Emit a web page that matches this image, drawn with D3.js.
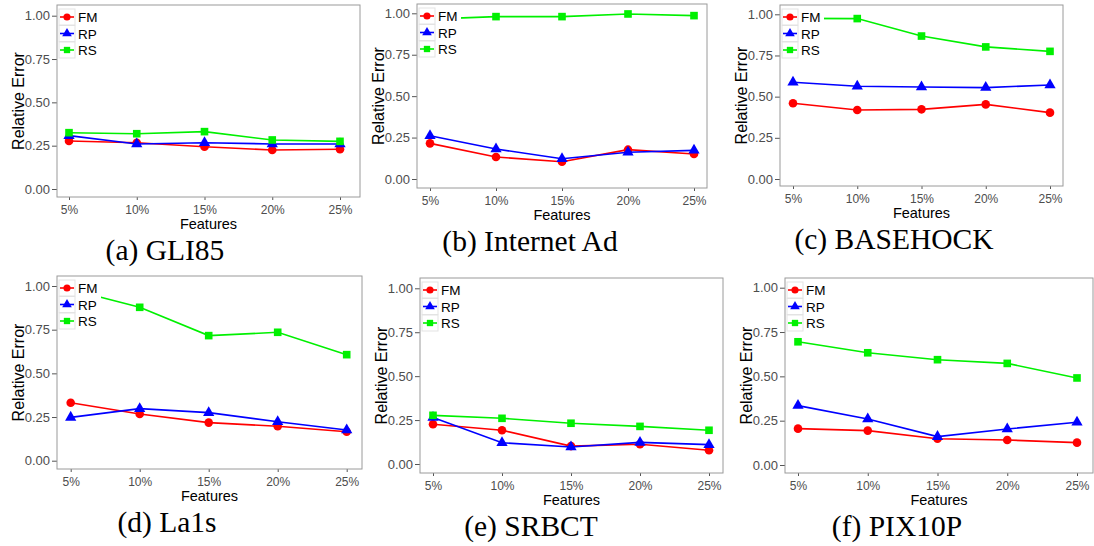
<!DOCTYPE html>
<html>
<head>
<meta charset="utf-8">
<script src="https://cdn.jsdelivr.net/npm/d3@7"></script>
<style>
  body { margin: 0; background: #fff; }
  svg { display: block; }
  .tick text { font-family: "Liberation Sans", Arial, sans-serif; fill: #4d4d4d; }
</style>
</head>
<body>
<div id="chart"></div>
<script>
var features = ['5%', '10%', '15%', '20%', '25%'];
var yTicks = [0, 0.25, 0.5, 0.75, 1];
var methods = ['FM', 'RP', 'RS'];
var panelTitles = ['(a) GLI85', '(b) Internet Ad', '(c) BASEHOCK', '(d) La1s', '(e) SRBCT', '(f) PIX10P'];

// one row per dataset, in panel order
var fmErrors = [
    [0.277, 0.267, 0.244, 0.225, 0.229],
    [0.215, 0.133, 0.104, 0.177, 0.151],
    [0.460, 0.419, 0.423, 0.453, 0.403],
    [0.332, 0.267, 0.218, 0.197, 0.166],
    [0.226, 0.192, 0.102, 0.112, 0.078],
    [0.205, 0.194, 0.148, 0.141, 0.126]
];
var rpErrors = [
    [0.308, 0.260, 0.267, 0.260, 0.260],
    [0.261, 0.181, 0.122, 0.161, 0.173],
    [0.587, 0.563, 0.559, 0.555, 0.571],
    [0.248, 0.298, 0.275, 0.223, 0.176],
    [0.264, 0.121, 0.097, 0.123, 0.110],
    [0.335, 0.259, 0.160, 0.203, 0.241]
];
var rsErrors = [
    [0.325, 0.319, 0.331, 0.283, 0.275],
    [0.965, 0.980, 0.980, 0.996, 0.986],
    [0.975, 0.974, 0.868, 0.802, 0.775],
    [0.980, 0.878, 0.716, 0.735, 0.607],
    [0.277, 0.260, 0.232, 0.214, 0.192],
    [0.695, 0.633, 0.594, 0.573, 0.491]
];

var colors = { FM: '#ff0000', RP: '#0000ff', RS: '#00f000' };
var shapes = { FM: d3.symbolCircle, RP: d3.symbolTriangle, RS: d3.symbolSquare };

// panel boxes as they sit in the figure
var layout = [
    { left: 57, right: 360, top: 5, bottom: 197, x5: 69, x25: 340, y0: 189, y1: 15.7, titleX: 165 },
    { left: 417, right: 707, top: 4, bottom: 188, x5: 430, x25: 694, y0: 179, y1: 13.3, titleX: 530 },
    { left: 780, right: 1063, top: 5, bottom: 186, x5: 793, x25: 1050, y0: 179, y1: 14.3, titleX: 894 },
    { left: 57, right: 362, top: 276, bottom: 469, x5: 70.7, x25: 346.7, y0: 460.7, y1: 286, titleX: 167 },
    { left: 420, right: 723, top: 278, bottom: 473, x5: 433, x25: 709, y0: 464, y1: 288.3, titleX: 531 },
    { left: 785, right: 1093, top: 278, bottom: 473, x5: 798, x25: 1077, y0: 465, y1: 287.7, titleX: 897 }
];

var svg = d3.select('#chart').append('svg')
    .attr('width', 1094)
    .attr('height', 546);

layout.forEach(function (box, i) {
    var series = {
        FM: fmErrors[i],
        RP: rpErrors[i],
        RS: rsErrors[i]
    };
    drawPanel(svg, box, series, panelTitles[i]);
});

function drawPanel(svg, box, series, title) {
    var x = d3.scalePoint().domain(features).range([box.x5, box.x25]),
        y = d3.scaleLinear().domain([0, 1]).range([box.y0, box.y1]);

    var g = svg.append('g');

    g.append('rect')
        .attr('x', box.left)
        .attr('y', box.top)
        .attr('width', box.right - box.left)
        .attr('height', box.bottom - box.top)
        .attr('fill', '#fff');

    var yAxis = d3.axisLeft(y)
        .tickValues(yTicks)
        .tickFormat(d3.format('.2f'))
        .tickSize(5)
        .tickPadding(2);

    var xAxis = d3.axisBottom(x)
        .tickSize(3)
        .tickPadding(5);

    g.append('g')
        .attr('transform', 'translate(' + box.left + ',0)')
        .call(yAxis)
        .call(function (a) {
            a.select('.domain').remove();
            a.selectAll('line').attr('stroke', '#555');
            a.selectAll('text').style('font-size', '13px');
        });

    g.append('g')
        .attr('transform', 'translate(0,' + box.bottom + ')')
        .call(xAxis)
        .call(function (a) {
            a.select('.domain').remove();
            a.selectAll('line').attr('stroke', '#555');
            a.selectAll('text').style('font-size', '12px');
        });

    var line = d3.line()
        .x(function (d, k) { return x(features[k]); })
        .y(function (d) { return y(d); });

    methods.forEach(function (m) {
        g.append('path')
            .datum(series[m])
            .attr('d', line)
            .attr('fill', 'none')
            .attr('stroke', colors[m])
            .attr('stroke-width', 1.6);

        g.selectAll('.pt-' + m)
            .data(series[m])
            .enter()
            .append('path')
            .attr('class', 'pt-' + m)
            .attr('transform', function (d, k) {
                return 'translate(' + x(features[k]) + ',' + y(d) + ')';
            })
            .attr('d', d3.symbol().type(shapes[m]).size(m === 'RP' ? 55 : 58))
            .attr('fill', colors[m]);
    });

    // panel border
    g.append('rect')
        .attr('x', box.left)
        .attr('y', box.top)
        .attr('width', box.right - box.left)
        .attr('height', box.bottom - box.top)
        .attr('fill', 'none')
        .attr('stroke', '#9a9a9a')
        .attr('stroke-width', 1);

    addLegend(g, box);

    g.append('text')
        .attr('x', (box.left + box.right) / 2)
        .attr('y', box.bottom + 32)
        .attr('text-anchor', 'middle')
        .style('font-family', '"Liberation Sans", Arial, sans-serif')
        .style('font-size', '14.5px')
        .text('Features');

    g.append('text')
        .attr('transform', 'translate(' + (box.left - 39) + ',' + ((box.top + box.bottom) / 2) + ') rotate(-90)')
        .attr('text-anchor', 'middle')
        .attr('dy', '0.35em')
        .style('font-family', '"Liberation Sans", Arial, sans-serif')
        .style('font-size', '16px')
        .text('Relative Error');

    g.append('text')
        .attr('x', box.titleX)
        .attr('y', box.bottom + 63)
        .attr('text-anchor', 'middle')
        .style('font-family', '"Liberation Serif", "Times New Roman", serif')
        .style('font-size', '29.5px')
        .text(title);
}

function addLegend(g, box) {
    var lx = box.left + 1,
        ly = box.top + 1,
        keySize = 16,
        rowGap = 16.5;

    g.append('rect')
        .attr('x', lx)
        .attr('y', ly)
        .attr('width', 43)
        .attr('height', 56)
        .attr('fill', '#fff');

    methods.forEach(function (m, k) {
        var ky = ly + 3 + k * rowGap;
        var row = g.append('g');

        row.append('rect')
            .attr('x', lx + 1)
            .attr('y', ky)
            .attr('width', keySize)
            .attr('height', keySize)
            .attr('fill', '#fff')
            .attr('stroke', '#e3e3e3');

        row.append('line')
            .attr('x1', lx + 2)
            .attr('x2', lx + keySize)
            .attr('y1', ky + keySize / 2)
            .attr('y2', ky + keySize / 2)
            .attr('stroke', colors[m])
            .attr('stroke-width', 1.6);

        row.append('path')
            .attr('transform', 'translate(' + (lx + 1 + keySize / 2) + ',' + (ky + keySize / 2) + ')')
            .attr('d', d3.symbol().type(shapes[m]).size(40))
            .attr('fill', colors[m]);

        row.append('text')
            .attr('x', lx + keySize + 4)
            .attr('y', ky + keySize / 2 + 5)
            .style('font-family', '"Liberation Sans", Arial, sans-serif')
            .style('font-size', '13.5px')
            .text(m);
    });
}
</script>
</body>
</html>
